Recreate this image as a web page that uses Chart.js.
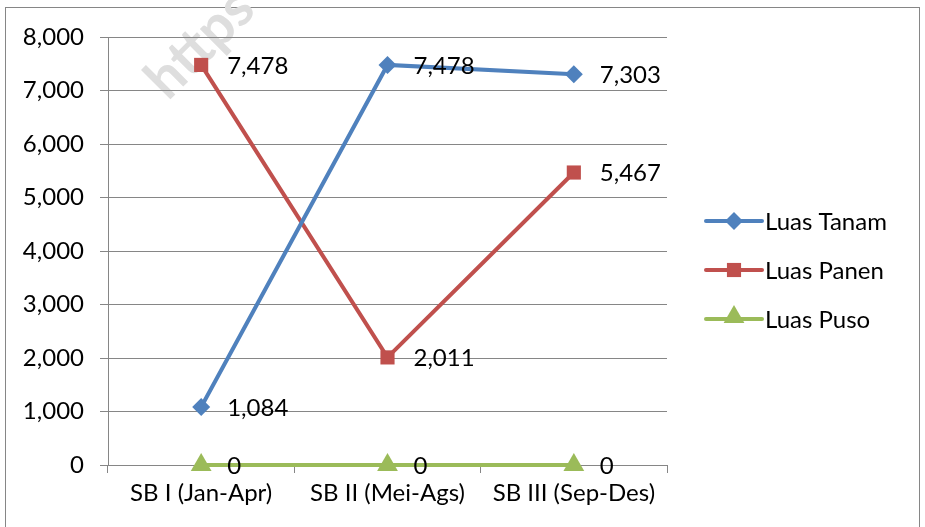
<!DOCTYPE html>
<html>
<head>
<meta charset="utf-8">
<script src="https://cdn.jsdelivr.net/npm/chart.js@4"></script>
<style>
  html, body { margin: 0; padding: 0; background: #fff; }
  #wrap { width: 925px; height: 527px; position: relative; }
</style>
</head>
<body>
<div id="wrap"><canvas id="lineChart" width="925" height="527"></canvas></div>
<script>
const categories = ['SB I (Jan-Apr)', 'SB II (Mei-Ags)', 'SB III (Sep-Des)'];
const luasTanam = [1084, 7478, 7303];
const luasPanen = [7478, 2011, 5467];
const luasPuso = [0, 0, 0];
const seriesNames = ['Luas Tanam', 'Luas Panen', 'Luas Puso'];

const FONT = 'Lato, "Liberation Sans", sans-serif';
const FSIZE = 24;
const fmt = v => v.toLocaleString('en-US');

// frame + watermark
const framePlugin = {
    id: 'frame',
    beforeDraw(chart) {
        const c = chart.ctx;
        c.save();
        c.fillStyle = '#fff';
        c.fillRect(0, 0, chart.width, chart.height);
        c.strokeStyle = '#868686';
        c.lineWidth = 1;
        c.strokeRect(5.5, 7.5, 914, 530);
        c.translate(200, 44);
        c.rotate(-Math.PI / 4);
        c.fillStyle = '#dedede';
        c.font = 'bold 56px ' + FONT;
        c.textAlign = 'center';
        c.textBaseline = 'middle';
        c.fillText('https', 0, 0);
        c.restore();
    }
};

// value labels to the right of each point
const valueLabels = {
    id: 'valueLabels',
    afterDatasetsDraw(chart) {
        const c = chart.ctx;
        c.save();
        c.font = FSIZE + 'px ' + FONT;
        c.fillStyle = '#000';
        c.textBaseline = 'middle';
        chart.data.datasets.forEach((ds, i) => {
            chart.getDatasetMeta(i).data.forEach((pt, j) => {
                c.fillText(fmt(ds.data[j]), pt.x + 26, pt.y + 1);
            });
        });
        c.restore();
    }
};

// legend with line + marker like Excel
const sideLegend = {
    id: 'sideLegend',
    afterDraw(chart) {
        const c = chart.ctx;
        const x0 = 706, x1 = 762;
        const ys = [221, 270, 319];
        c.save();
        chart.data.datasets.forEach((ds, i) => {
            const y = ys[i];
            c.strokeStyle = ds.borderColor;
            c.lineWidth = 4;
            c.lineCap = 'round';
            c.beginPath();
            c.moveTo(x0, y);
            c.lineTo(x1, y);
            c.stroke();
            c.fillStyle = ds.backgroundColor;
            c.strokeStyle = ds.backgroundColor;
            Chart.helpers.drawPoint(c, {
                pointStyle: ds.pointStyle,
                radius: ds.pointRadius,
                rotation: 0,
                borderWidth: 0
            }, (x0 + x1) / 2, ds.pointStyle === 'triangle' ? y - 2 : y);
            c.fillStyle = '#000';
            c.font = FSIZE + 'px ' + FONT;
            c.textBaseline = 'middle';
            c.fillText(seriesNames[i], x1 + 3, y + 1);
        });
        c.restore();
    }
};

const ctx = document.getElementById('lineChart').getContext('2d');
new Chart(ctx, {
    type: 'line',
    data: {
        labels: categories,
        datasets: [
            {
                label: seriesNames[0], data: luasTanam,
                borderColor: '#4F81BD', backgroundColor: '#4F81BD',
                borderWidth: 4, pointStyle: 'rectRot', pointRadius: 9,
                pointBorderWidth: 0, tension: 0, clip: false
            },
            {
                label: seriesNames[1], data: luasPanen,
                borderColor: '#C0504D', backgroundColor: '#C0504D',
                borderWidth: 4, pointStyle: 'rect', pointRadius: 10,
                pointBorderWidth: 0, tension: 0, clip: false
            },
            {
                label: seriesNames[2], data: luasPuso,
                borderColor: '#9BBB59', backgroundColor: '#9BBB59',
                borderWidth: 4, pointStyle: 'triangle', pointRadius: 12,
                pointBorderWidth: 0, tension: 0, clip: false
            }
        ]
    },
    options: {
        responsive: false,
        animation: false,
        events: [],
        layout: { padding: { left: 0, top: 37, right: 258, bottom: 0 } },
        plugins: {
            legend: { display: false },
            tooltip: { enabled: false }
        },
        scales: {
            x: {
                offset: true,
                grid: {
                    offset: true, drawOnChartArea: false, drawTicks: true,
                    tickLength: 8, color: '#868686', lineWidth: 1
                },
                border: { color: '#868686', width: 1 },
                ticks: { color: '#000', font: { family: FONT, size: FSIZE }, padding: 6, maxRotation: 0 },
                afterFit(scale) { scale.height = 62; }
            },
            y: {
                min: 0, max: 8000,
                ticks: {
                    stepSize: 1000, color: '#000',
                    font: { family: FONT, size: FSIZE }, padding: 16,
                    callback: v => fmt(v)
                },
                grid: { color: '#868686', lineWidth: 1, tickLength: 8 },
                border: { color: '#868686', width: 1 },
                afterFit(scale) { scale.width = 108; }
            }
        }
    },
    plugins: [framePlugin, valueLabels, sideLegend]
});
</script>
</body>
</html>
